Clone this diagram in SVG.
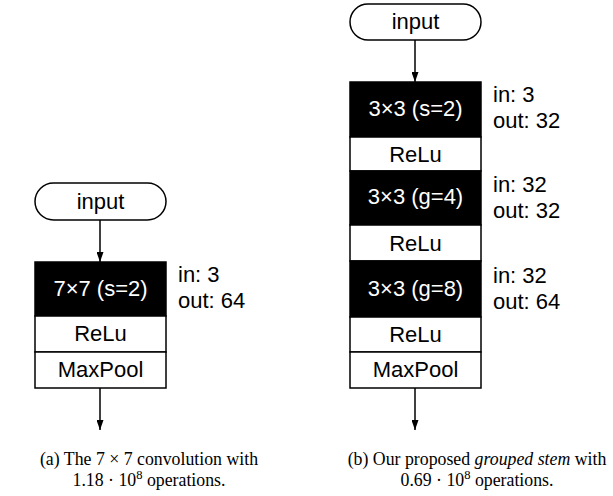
<svg xmlns="http://www.w3.org/2000/svg" width="613" height="496" viewBox="0 0 613 496">
<defs>
<marker id="arr" viewBox="0 0 10 10" refX="10" refY="5" markerWidth="10" markerHeight="7" preserveAspectRatio="none" markerUnits="userSpaceOnUse" orient="auto">
<path d="M0,0 L10,5 L0,10 z" fill="#000"/>
</marker>
<style>
.pill{fill:#fff;stroke:#000;stroke-width:1.5}
.blk{fill:#000;stroke:#000;stroke-width:1.5}
.wht{fill:#fff;stroke:#000;stroke-width:1.5}
.t{font-family:"Liberation Sans",Arial,sans-serif;font-size:22px;text-anchor:middle;fill:#000}
.tw{font-family:"Liberation Sans",Arial,sans-serif;font-size:22px;text-anchor:middle;fill:#fff}
.lab{font-family:"Liberation Sans",Arial,sans-serif;font-size:22px;fill:#000}
.cap{font-family:"Liberation Serif","Times New Roman",serif;font-size:17.8px;text-anchor:middle;fill:#000}
.ln{stroke:#000;stroke-width:1.5;fill:none}
</style>
</defs>
<rect width="613" height="496" fill="#fff"/>
<g id="connectors">
<line class="ln" x1="100" y1="220" x2="100" y2="262" marker-end="url(#arr)"/>
<line class="ln" x1="100" y1="388" x2="100" y2="430" marker-end="url(#arr)"/>
<line class="ln" x1="415" y1="40" x2="415" y2="82" marker-end="url(#arr)"/>
<line class="ln" x1="415" y1="388" x2="415" y2="430" marker-end="url(#arr)"/>
</g>
<g id="a-input"><rect class="pill" x="35" y="183" width="131" height="37" rx="18.5"/><text class="t" x="100.5" y="209">input</text></g>
<g id="a-conv"><rect class="blk" x="35" y="262" width="131" height="54"/><text class="tw" x="100.5" y="296">7×7 (s=2)</text></g>
<g id="a-relu"><rect class="wht" x="35" y="316" width="131" height="36"/><text class="t" x="100.5" y="341">ReLu</text></g>
<g id="a-pool"><rect class="wht" x="35" y="352" width="131" height="36"/><text class="t" x="100.5" y="377">MaxPool</text></g>
<g id="a-label"><text class="lab" x="178" y="282">in: 3</text><text class="lab" x="178" y="308">out: 64</text></g>
<g id="b-input"><rect class="pill" x="350" y="4" width="131" height="36" rx="18"/><text class="t" x="415.5" y="29">input</text></g>
<g id="b-conv1"><rect class="blk" x="350" y="82" width="131" height="55"/><text class="tw" x="415.5" y="116">3×3 (s=2)</text></g>
<g id="b-relu1"><rect class="wht" x="350" y="137" width="131" height="34"/><text class="t" x="415.5" y="162">ReLu</text></g>
<g id="b-conv2"><rect class="blk" x="350" y="171" width="131" height="54"/><text class="tw" x="415.5" y="204">3×3 (g=4)</text></g>
<g id="b-relu2"><rect class="wht" x="350" y="225" width="131" height="36"/><text class="t" x="415.5" y="251">ReLu</text></g>
<g id="b-conv3"><rect class="blk" x="350" y="261" width="131" height="56"/><text class="tw" x="415.5" y="296">3×3 (g=8)</text></g>
<g id="b-relu3"><rect class="wht" x="350" y="317" width="131" height="35"/><text class="t" x="415.5" y="342">ReLu</text></g>
<g id="b-pool"><rect class="wht" x="350" y="352" width="131" height="36"/><text class="t" x="415.5" y="377">MaxPool</text></g>
<g id="b-labels">
<text class="lab" x="493" y="102">in: 3</text><text class="lab" x="493" y="128">out: 32</text>
<text class="lab" x="493" y="192">in: 32</text><text class="lab" x="493" y="218">out: 32</text>
<text class="lab" x="493" y="283">in: 32</text><text class="lab" x="493" y="309">out: 64</text>
</g>
<g id="captions">
<text class="cap" x="149" y="465">(a) The 7 × 7 convolution with</text>
<text class="cap" x="149" y="486">1.18 · 10<tspan font-size="12.5" dy="-7">8</tspan><tspan dy="7"> operations.</tspan></text>
<text class="cap" x="477" y="465">(b) Our proposed <tspan font-style="italic">grouped stem</tspan> with</text>
<text class="cap" x="477" y="486">0.69 · 10<tspan font-size="12.5" dy="-7">8</tspan><tspan dy="7"> operations.</tspan></text>
</g>
</svg>
